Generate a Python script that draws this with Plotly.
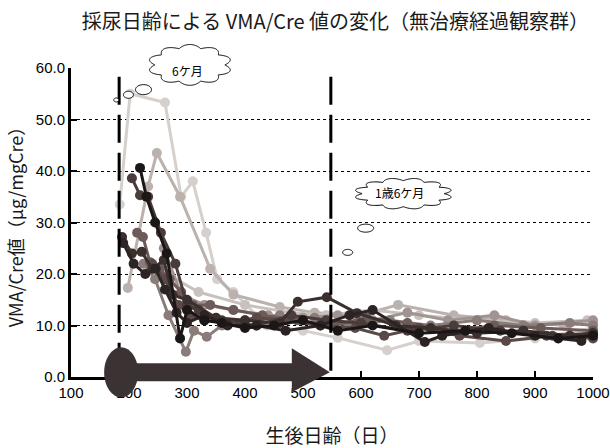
import numpy as np
import plotly.graph_objects as go

# --- data: age at urine sampling (days) and VMA/Cre (µg/mgCre) per patient ---
days_a = [184, 202, 262, 290, 310, 333, 352, 380, 438, 500, 560, 645, 700, 805, 900, 1000]
vals_a = [33.5, 55.0, 53.3, 35.0, 38.0, 28.0, 19.0, 16.5, 10.0, 9.0, 7.6, 5.2, 7.0, 6.6, 7.5, 9.5]

days_b = [198, 233, 248, 288, 340, 380, 460, 520, 600, 664, 760, 850, 950, 1000]
vals_b = [17.3, 37.0, 43.5, 35.0, 21.0, 16.0, 13.6, 12.5, 12.0, 14.0, 12.0, 11.0, 10.0, 10.5]

days_c = [265, 320, 400, 480, 540, 620, 700, 800, 900, 990]
vals_c = [20.0, 16.5, 14.0, 12.5, 12.0, 13.0, 12.0, 11.0, 10.5, 11.0]

days_d = [260, 290, 330, 380, 440, 500, 560, 620, 680, 750, 830, 900, 1000]
vals_d = [25.0, 16.0, 14.0, 13.0, 12.0, 11.5, 12.0, 11.0, 12.5, 11.0, 12.0, 10.0, 11.0]

days_e = [225, 245, 268, 298, 312, 334, 360, 400, 460, 520, 580, 650, 720, 800, 880, 960, 1000]
vals_e = [22.0, 19.0, 12.0, 4.9, 9.0, 7.8, 10.0, 11.0, 12.0, 11.5, 10.0, 11.0, 10.0, 11.0, 10.0, 10.5, 10.0]

days_f = [214, 224, 236, 253, 270, 290, 310, 340, 380, 430, 490, 550, 610, 680, 760, 830, 910, 1000]
vals_f = [28.0, 27.2, 22.3, 21.0, 19.0, 16.5, 14.0, 14.0, 13.0, 12.0, 11.0, 10.0, 11.5, 10.5, 9.0, 10.0, 9.5, 9.0]

days_g = [240, 262, 285, 305, 330, 370, 420, 470, 530, 590, 640, 700, 770, 850, 930, 1000]
vals_g = [22.0, 19.0, 14.0, 12.0, 11.0, 10.5, 11.5, 11.0, 10.0, 9.5, 8.0, 9.5, 8.0, 7.0, 8.0, 7.5]

days_h = [205, 219, 233, 255, 280, 300, 320, 360, 420, 480, 540, 600, 680, 760, 840, 920, 1000]
vals_h = [38.6, 35.3, 35.0, 28.0, 22.0, 14.0, 13.0, 11.0, 10.0, 12.0, 11.0, 10.5, 9.0, 10.0, 9.0, 8.0, 8.5]

days_i = [188, 205, 222, 240, 260, 275, 300, 350, 400, 460, 491, 541, 593, 660, 720, 800, 880, 960, 1000]
vals_i = [27.2, 24.0, 24.3, 21.0, 22.7, 16.0, 15.0, 11.5, 11.0, 10.5, 14.6, 15.5, 12.4, 10.0, 9.5, 8.5, 9.0, 8.0, 8.5]

days_j = [190, 208, 228, 246, 262, 282, 300, 330, 370, 420, 470, 530, 580, 620, 710, 740, 820, 900, 980]
vals_j = [26.0, 22.0, 20.0, 21.0, 17.0, 12.5, 10.5, 12.0, 10.0, 10.0, 9.0, 10.0, 12.0, 13.0, 6.8, 8.0, 9.5, 8.0, 7.0]

days_k = [219, 230, 245, 265, 288, 300, 330, 360, 400, 450, 500, 560, 620, 700, 780, 860, 940, 1000]
vals_k = [40.6, 35.0, 30.0, 24.0, 7.5, 13.0, 11.0, 10.5, 9.5, 10.0, 11.0, 9.0, 10.0, 8.5, 9.0, 8.5, 7.5, 8.0]

# light patients first so that the darker ones sit on top
series = [
    (days_a, vals_a, "#d6d0cc"),
    (days_b, vals_b, "#bbb2ae"),
    (days_c, vals_c, "#c9c1bd"),
    (days_d, vals_d, "#a09492"),
    (days_e, vals_e, "#8a7c79"),
    (days_f, vals_f, "#6c5b58"),
    (days_g, vals_g, "#5a4947"),
    (days_h, vals_h, "#4a3c3a"),
    (days_i, vals_i, "#3a302e"),
    (days_j, vals_j, "#2c2424"),
    (days_k, vals_k, "#1b1717"),
]

x_ticks = [100, 200, 300, 400, 500, 600, 700, 800, 900, 1000]
y_ticks = [0, 10, 20, 30, 40, 50, 60]

X_MIN, X_MAX = 100, 1000
Y_MIN, Y_MAX = 0, 60
SIX_MONTHS = 183          # 6ケ月
ONE_AND_HALF_YEARS = 548  # 1歳6ケ月

W, H = 610, 448
ML, MR, MT, MB = 71, 17, 68, 71
PW, PH = W - ML - MR, H - MT - MB


def px(d):
    """day -> paper x"""
    return (d - X_MIN) / (X_MAX - X_MIN)


def py(v):
    """value -> paper y"""
    return (v - Y_MIN) / (Y_MAX - Y_MIN)


def ellipse_path(cx, cy, rx, ry, n=60):
    # cx, cy in paper units; rx, ry in pixels
    t = np.linspace(0, 2 * np.pi, n)
    xs = cx + rx * np.cos(t) / PW
    ys = cy + ry * np.sin(t) / PH
    return "M" + " L".join(f"{a:.5f},{b:.5f}" for a, b in zip(xs, ys)) + " Z"


def cloud_path(cx, cy, rx, ry, lobes=12, bump=0.2, n=400):
    # scalloped ellipse; an even lobe count keeps it symmetric
    t = np.linspace(0, 2 * np.pi, n)
    r = 1 + bump * np.abs(np.sin(lobes * t / 2))
    xs = cx + rx * r * np.cos(t) / PW
    ys = cy + ry * r * np.sin(t) / PH
    return "M" + " L".join(f"{a:.5f},{b:.5f}" for a, b in zip(xs, ys)) + " Z"


fig = go.Figure()
for d, v, c in series:
    fig.add_trace(go.Scatter(
        x=d, y=v, mode="lines+markers",
        line=dict(color=c, width=3),
        marker=dict(color=c, size=10, symbol="circle"),
        showlegend=False, cliponaxis=False,
    ))

shapes = []
# age markers: 6 months and 1.5 years
for d in (SIX_MONTHS, ONE_AND_HALF_YEARS):
    shapes.append(dict(type="line", xref="x", yref="paper",
                       x0=d, x1=d, y0=0.02, y1=1.0,
                       line=dict(color="black", width=3, dash="28px,10px"),
                       layer="above"))

# thick arrow along the bottom: untreated observation period
arrow_col = "#3b3333"
bar_y = py(0.9)
tip_x = px(ONE_AND_HALF_YEARS) - 1 / PW
base_x = tip_x - 38 / PW
shapes.append(dict(type="rect", xref="paper", yref="paper",
                   x0=px(SIX_MONTHS), x1=base_x + 1 / PW,
                   y0=bar_y - 9 / PH, y1=bar_y + 9 / PH,
                   fillcolor=arrow_col, line=dict(width=0), layer="above"))
shapes.append(dict(type="path", xref="paper", yref="paper",
                   path=f"M{base_x:.5f},{bar_y + 24 / PH:.5f} L{tip_x:.5f},{bar_y:.5f} "
                        f"L{base_x:.5f},{bar_y - 20 / PH:.5f} Z",
                   fillcolor=arrow_col, line=dict(width=0), layer="above"))
shapes.append(dict(type="path", xref="paper", yref="paper",
                   path=ellipse_path(px(SIX_MONTHS) + 2 / PW, bar_y, 17, 25),
                   fillcolor=arrow_col, line=dict(width=0), layer="above"))

# thought-bubble clouds with trailing bubbles
cloud1 = (px(305), py(60.6))
cloud2 = (px(673), py(35.6))
shapes.append(dict(type="path", xref="paper", yref="paper",
                   path=cloud_path(cloud1[0], cloud1[1], 35, 17, lobes=10),
                   fillcolor="white", line=dict(color="black", width=1), layer="above"))
shapes.append(dict(type="path", xref="paper", yref="paper",
                   path=cloud_path(cloud2[0], cloud2[1], 41, 13, lobes=12),
                   fillcolor="white", line=dict(color="black", width=1), layer="above"))
for d, v, rx, ry in [(178, 53.8, 2.5, 2), (199, 54.8, 5, 3.5), (225, 55.8, 8, 5),
                     (577, 24.2, 5, 3), (608, 28.9, 8, 4)]:
    shapes.append(dict(type="path", xref="paper", yref="paper",
                       path=ellipse_path(px(d), py(v), rx, ry),
                       fillcolor="white", line=dict(color="black", width=1), layer="above"))

fig.update_layout(shapes=shapes)

fig.add_annotation(x=cloud1[0] - 20 / PW, y=cloud1[1] + 5 / PH, xref="paper", yref="paper",
                   text="6ケ月", showarrow=False,
                   font=dict(family="Noto Sans CJK JP", size=12, color="black"))
fig.add_annotation(x=cloud2[0] - 4 / PW, y=cloud2[1] + 1 / PH, xref="paper", yref="paper",
                   text="1歳6ケ月", showarrow=False,
                   font=dict(family="Noto Sans CJK JP", size=12, color="black"))

tick_font = dict(family="Liberation Sans Narrow, Liberation Sans, Arial", size=15, color="black")

fig.update_layout(
    width=W, height=H,
    margin=dict(l=ML, r=MR, t=MT, b=MB, autoexpand=False),
    paper_bgcolor="white", plot_bgcolor="white",
    title=dict(text="採尿日齢による VMA/Cre 値の変化（無治療経過観察群）",
               x=0.55, xanchor="center", y=0.95, yanchor="middle",
               font=dict(family="Noto Sans CJK JP", size=20, color="#1a1a1a")),
    xaxis=dict(range=[X_MIN, X_MAX], tickvals=x_ticks, ticktext=[str(t) for t in x_ticks],
               automargin=False,
               showgrid=False, zeroline=False,
               showline=True, linecolor="black", linewidth=3,
               ticks="inside", ticklen=6, tickwidth=2, tickcolor="black",
               tickfont=tick_font,
               title=dict(text="生後日齢（日）", standoff=30,
                          font=dict(family="Noto Sans CJK JP", size=19, color="#1a1a1a"))),
    yaxis=dict(range=[Y_MIN, Y_MAX], tickvals=y_ticks, ticktext=[f"{t:.1f}" for t in y_ticks],
               automargin=False,
               showgrid=True, gridcolor="black", gridwidth=1, griddash="dot",
               zeroline=False,
               showline=True, linecolor="black", linewidth=3,
               ticks="inside", ticklen=6, tickwidth=2, tickcolor="black",
               tickfont=tick_font,
               title=dict(text="VMA/Cre値（μg/mgCre）", standoff=8,
                          font=dict(family="Noto Sans CJK JP", size=18, color="#1a1a1a"))),
)

fig.write_html("out.html")
